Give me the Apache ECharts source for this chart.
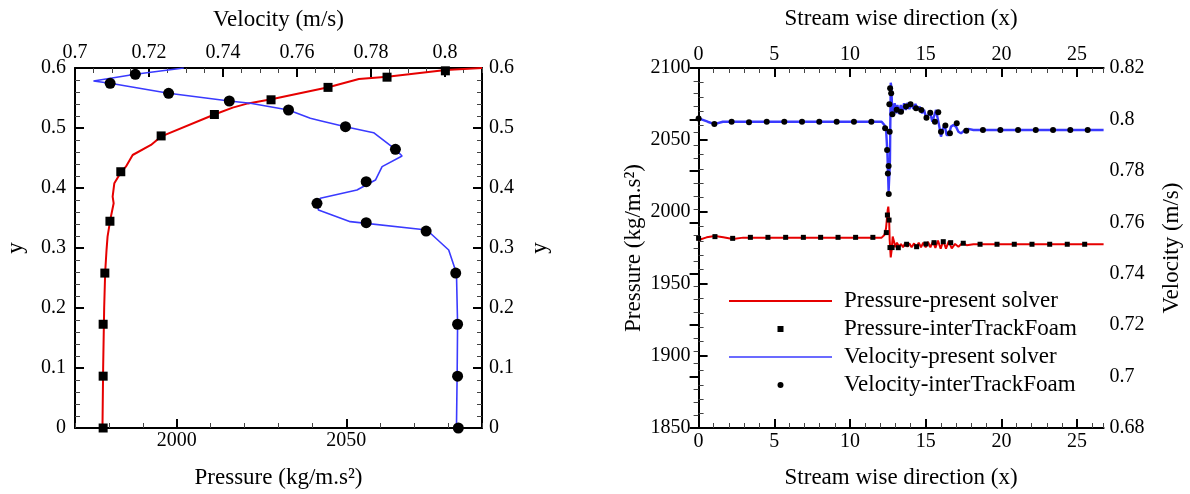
<!DOCTYPE html>
<html>
<head>
<meta charset="utf-8">
<script src="https://cdn.jsdelivr.net/npm/echarts@6/dist/echarts.min.js"></script>
<style>html,body{margin:0;padding:0;background:#fff;}#c{width:1190px;height:494px;}</style>
</head>
<body>
<div id="c"></div>
<script>
// ---------- Left panel: vertical profiles (y vs pressure / velocity) ----------
const leftPressureLine = [[1978.1,0],[1978.3,0.1],[1978.6,0.2],[1978.9,0.26],[1979.3,0.297],[1979.6,0.319],[1980.4,0.347],[1981.4,0.3745],[1981.1,0.3855],[1981.6,0.408],[1983.5,0.426],[1985,0.4355],[1987,0.455],[1992.4,0.4717],[1995.3,0.4855],[2011.1,0.5225],[2016.5,0.534],[2021,0.541],[2027.9,0.548],[2044.7,0.568],[2053.7,0.5816],[2062.1,0.5855],[2079.3,0.5967],[2090,0.6]];
const leftPressureFoam = [[1978.3,0],[1978.3,0.0864],[1978.3,0.1729],[1978.8,0.2582],[1980.3,0.3446],[1983.5,0.4271],[1995.4,0.4868],[2011.1,0.5225],[2027.8,0.547],[2044.6,0.5677],[2062,0.5847],[2079.2,0.5953]];
const leftVelocityLine = [[0.8031,0],[0.8033,0.1],[0.8034,0.173],[0.8031,0.258],[0.8010,0.2967],[0.7951,0.33],[0.7744,0.3439],[0.7658,0.3633],[0.7654,0.3745],[0.7663,0.3828],[0.7762,0.3967],[0.7812,0.4133],[0.783,0.4356],[0.7884,0.4533],[0.7866,0.4644],[0.7807,0.4922],[0.7731,0.5022],[0.7663,0.5122],[0.7636,0.5161],[0.7577,0.53],[0.7474,0.5412],[0.7417,0.545],[0.7253,0.5578],[0.7095,0.5745],[0.705,0.5783],[0.7163,0.5895],[0.7294,0.6]];
const leftVelocityFoam = [[0.8036,0],[0.8034,0.0864],[0.8034,0.1729],[0.8029,0.2582],[0.7949,0.3283],[0.7787,0.3422],[0.7654,0.3745],[0.7787,0.4106],[0.7866,0.4644],[0.7731,0.5022],[0.7577,0.53],[0.7417,0.545],[0.7253,0.5578],[0.7095,0.5745],[0.7163,0.5895]];

// ---------- Right panel: stream-wise distributions ----------
const rightPressureLine = [[0,1980.6],[0.53,1982.4],[1.08,1983.3],[1.63,1982.4],[2.25,1981.2],[2.95,1982.2],[12.09,1982.2],[12.27,1984.0],[12.38,1988.7],[12.49,2001.4],[12.53,2003.7],[12.58,1996.8],[12.62,1980.6],[12.69,1968.5],[12.75,1973.6],[12.82,1982.9],[12.91,1979.4],[12.99,1975.5],[13.10,1978.7],[13.24,1975.9],[13.37,1977.8],[13.50,1975.5],[13.63,1978.2],[13.79,1975.9],[13.92,1978.2],[14.07,1975.5],[14.23,1978.2],[14.38,1975.5],[14.54,1978.7],[14.69,1975.5],[14.84,1978.7],[15.0,1975.5],[15.15,1979.2],[15.31,1975.5],[15.48,1979.6],[15.64,1975.0],[15.81,1980.1],[15.99,1974.5],[16.16,1980.1],[16.34,1974.5],[16.52,1979.6],[16.72,1974.8],[16.94,1977.8],[17.16,1975.9],[17.44,1978.7],[17.71,1976.9],[18.15,1977.6],[26.75,1977.6]];
const rightPressureFoam = [[0,1981.7],[1.08,1982.9],[2.25,1981.7],[3.42,1982.4],[4.58,1982.4],[5.75,1982.4],[6.92,1982.4],[8.06,1982.4],[9.21,1982.4],[10.37,1982.4],[11.51,1982.4],[12.4,1985.7],[12.47,1997.9],[12.58,1994.4],[12.64,1975.3],[12.78,1975.3],[13.19,1975.2],[13.74,1977.6],[14.4,1975.9],[15.02,1977.8],[15.55,1978.7],[16.16,1979.4],[16.65,1978.7],[17.48,1978.3],[18.59,1977.6],[19.71,1977.6],[20.85,1977.6],[22.02,1977.6],[23.19,1977.6],[24.35,1977.6],[25.5,1977.6]];
const rightVelocityLine = [[0,0.8004],[0.6,0.7991],[1.04,0.7982],[1.6,0.7991],[12.09,0.7991],[12.27,0.7978],[12.38,0.7965],[12.47,0.7868],[12.55,0.7719],[12.60,0.7719],[12.64,0.7842],[12.69,0.8143],[12.73,0.8127],[12.80,0.8011],[12.86,0.8037],[12.95,0.8063],[13.04,0.8024],[13.13,0.8056],[13.24,0.8021],[13.35,0.8056],[13.46,0.803],[13.57,0.8063],[13.68,0.8037],[13.81,0.8065],[13.92,0.804],[14.05,0.8063],[14.18,0.8041],[14.32,0.806],[14.47,0.8037],[14.60,0.805],[14.76,0.8024],[14.89,0.8037],[15.04,0.8004],[15.17,0.8017],[15.28,0.803],[15.44,0.7991],[15.55,0.7985],[15.68,0.8037],[15.79,0.8043],[15.90,0.7972],[16.01,0.7933],[16.14,0.7965],[16.25,0.7978],[16.38,0.7939],[16.52,0.7939],[16.67,0.7972],[16.83,0.7978],[17.0,0.7972],[17.16,0.7952],[17.33,0.7946],[17.53,0.7956],[17.82,0.7963],[18.15,0.7959],[26.75,0.7959]];
const rightVelocityFoam = [[0,0.8004],[1.04,0.7982],[2.18,0.7991],[3.33,0.7989],[4.5,0.7991],[5.66,0.7991],[6.83,0.7991],[7.97,0.7991],[9.12,0.7991],[10.26,0.7991],[11.41,0.7991],[12.32,0.7966],[12.45,0.7881],[12.55,0.7819],[12.5,0.779],[12.56,0.771],[12.62,0.7952],[12.6,0.8059],[12.65,0.8121],[12.72,0.8102],[12.8,0.802],[13.08,0.8038],[13.37,0.803],[13.7,0.805],[14.0,0.8059],[14.36,0.8043],[14.71,0.8037],[15.05,0.8007],[15.3,0.8026],[15.61,0.7991],[15.83,0.8028],[16.01,0.7952],[16.3,0.7976],[16.6,0.7946],[17.05,0.7985],[17.68,0.7956],[18.78,0.7959],[19.93,0.7959],[21.1,0.7959],[22.27,0.7959],[23.41,0.7959],[24.55,0.7959],[25.7,0.7959]];

// ---------- tick labels ----------
const leftPressureTicks = [2000, 2050];
const leftVelocityTicks = [0.7, 0.72, 0.74, 0.76, 0.78, 0.8];
const rightXTicks = [0, 5, 10, 15, 20, 25];

const FONT = "'Liberation Serif', 'DejaVu Serif', serif";
const plain = (v) => String(Math.round(v * 1e6) / 1e6);
const lab = (m) => ({ fontSize: 20, color: '#000', fontFamily: FONT, margin: m, formatter: plain });
const nameStyle = { fontSize: 23, color: '#000', fontFamily: FONT };
const line = { show: true, lineStyle: { color: '#000', width: 2 } };
const noSplit = { show: false };
const minorTick = { show: true, inside: true, length: 5, lineStyle: { color: '#444', width: 1 } };
const majorTick = { show: true, inside: true, length: 9, lineStyle: { color: '#000', width: 2 } };

function minorAxis(o) {
  return Object.assign({ type: 'value', splitLine: noSplit, axisLine: line, axisTick: minorTick }, o);
}
function majorOverlay(o, values) {
  return Object.assign({ type: 'value', splitLine: noSplit, axisLine: { show: false }, axisLabel: { show: false },
    axisTick: Object.assign({}, majorTick, { customValues: values }) }, o);
}

const option = {
  backgroundColor: '#fff',
  animation: false,
  grid: [
    { left: 75, top: 68, width: 407, height: 360 },
    { left: 698.6, top: 68, width: 405, height: 360 }
  ],
  legend: {
    left: 724, top: 282, orient: 'vertical', itemWidth: 103, itemHeight: 6, itemGap: 0,
    textStyle: { fontSize: 23, fontFamily: FONT, color: '#000', lineHeight: 28, padding: [0, 0, 0, 7] },
    selectedMode: false,
    data: [
      { name: 'Pressure-present solver', icon: 'path://M0 0H50V1H0Z' },
      { name: 'Pressure-interTrackFoam', icon: 'path://M0 0H10V10H0Z' },
      { name: 'Velocity-present solver', icon: 'path://M0 0H50V0.8H0Z' },
      { name: 'Velocity-interTrackFoam', icon: 'circle' }
    ]
  },
  xAxis: [
    minorAxis({ gridIndex: 0, position: 'bottom', min: 1970, max: 2090, interval: 10,
      axisLabel: Object.assign(lab(3), { customValues: leftPressureTicks }),
      name: 'Pressure (kg/m.s²)', nameLocation: 'middle', nameGap: 38, nameTextStyle: nameStyle }),
    majorOverlay({ gridIndex: 0, position: 'bottom', min: 1970, max: 2090, interval: 10 }, leftPressureTicks),
    minorAxis({ gridIndex: 0, position: 'top', min: 0.7, max: 0.81, interval: 0.005,
      axisLabel: Object.assign(lab(5), { customValues: leftVelocityTicks }),
      name: 'Velocity (m/s)', nameLocation: 'middle', nameGap: 37, nameTextStyle: nameStyle }),
    majorOverlay({ gridIndex: 0, position: 'top', min: 0.7, max: 0.81, interval: 0.005 }, leftVelocityTicks),
    minorAxis({ gridIndex: 1, position: 'bottom', min: 0, max: 26.75, interval: 1,
      axisLabel: Object.assign(lab(4), { customValues: rightXTicks }),
      name: 'Stream wise direction (x)', nameLocation: 'middle', nameGap: 38, nameTextStyle: nameStyle }),
    majorOverlay({ gridIndex: 1, position: 'bottom', min: 0, max: 26.75, interval: 1 }, rightXTicks),
    minorAxis({ gridIndex: 1, position: 'top', min: 0, max: 26.75, interval: 1,
      axisLabel: Object.assign(lab(3), { customValues: rightXTicks }),
      name: 'Stream wise direction (x)', nameLocation: 'middle', nameGap: 38, nameTextStyle: nameStyle }),
    majorOverlay({ gridIndex: 1, position: 'top', min: 0, max: 26.75, interval: 1 }, rightXTicks)
  ],
  yAxis: [
    { type: 'value', gridIndex: 0, position: 'left', min: 0, max: 0.6, interval: 0.1, splitLine: noSplit,
      axisLine: line, axisTick: majorTick, minorTick: Object.assign({ splitNumber: 5 }, minorTick), minorSplitLine: noSplit,
      axisLabel: lab(9), name: 'y', nameLocation: 'middle', nameGap: 48, nameRotate: 90, nameTextStyle: nameStyle },
    { type: 'value', gridIndex: 0, position: 'right', min: 0, max: 0.6, interval: 0.1, splitLine: noSplit,
      axisLine: line, axisTick: majorTick, minorTick: Object.assign({ splitNumber: 5 }, minorTick), minorSplitLine: noSplit,
      axisLabel: lab(7), name: 'y', nameLocation: 'middle', nameGap: 46, nameRotate: 90, nameTextStyle: nameStyle },
    { type: 'value', gridIndex: 1, position: 'left', min: 1850, max: 2100, interval: 50, splitLine: noSplit,
      axisLine: line, axisTick: majorTick, minorTick: Object.assign({ splitNumber: 5 }, minorTick), minorSplitLine: noSplit,
      axisLabel: lab(8), name: 'Pressure (kg/m.s²)', nameLocation: 'middle', nameGap: 53, nameRotate: 90, nameTextStyle: nameStyle },
    { type: 'value', gridIndex: 1, position: 'right', min: 0.68, max: 0.82, interval: 0.02, splitLine: noSplit,
      axisLine: line, axisTick: majorTick, minorTick: Object.assign({ splitNumber: 4 }, minorTick), minorSplitLine: noSplit,
      axisLabel: lab(6), name: 'Velocity (m/s)', nameLocation: 'middle', nameGap: 57, nameRotate: 90, nameTextStyle: nameStyle }
  ],
  series: [
    { name: 'L-pressure', type: 'line', xAxisIndex: 0, yAxisIndex: 0, data: leftPressureLine, symbol: 'none',
      lineStyle: { color: '#e60000', width: 2 }, z: 2 },
    { name: 'L-velocity', type: 'line', xAxisIndex: 2, yAxisIndex: 0, data: leftVelocityLine, symbol: 'none',
      lineStyle: { color: '#3a3aff', width: 1.6 }, z: 2 },
    { name: 'L-pressure-foam', type: 'scatter', xAxisIndex: 0, yAxisIndex: 0, data: leftPressureFoam, symbol: 'rect',
      symbolSize: 9, itemStyle: { color: '#000', opacity: 1 }, z: 3 },
    { name: 'L-velocity-foam', type: 'scatter', xAxisIndex: 2, yAxisIndex: 0, data: leftVelocityFoam, symbol: 'circle',
      symbolSize: 11, itemStyle: { color: '#000', opacity: 1 }, z: 3 },

    { name: 'Pressure-present solver', type: 'line', xAxisIndex: 4, yAxisIndex: 2, data: rightPressureLine, symbol: 'none',
      lineStyle: { color: '#e60000', width: 2 }, itemStyle: { color: '#e60000' }, z: 2 },
    { name: 'Pressure-interTrackFoam', type: 'scatter', xAxisIndex: 4, yAxisIndex: 2, data: rightPressureFoam, symbol: 'rect',
      symbolSize: 5, itemStyle: { color: '#000', opacity: 1 }, z: 3 },
    { name: 'Velocity-present solver', type: 'line', xAxisIndex: 4, yAxisIndex: 3, data: rightVelocityLine, symbol: 'none',
      lineStyle: { color: '#3a3aff', width: 2.4 }, itemStyle: { color: '#3a3aff' }, z: 2 },
    { name: 'Velocity-interTrackFoam', type: 'scatter', xAxisIndex: 4, yAxisIndex: 3, data: rightVelocityFoam, symbol: 'circle',
      symbolSize: 6, itemStyle: { color: '#000', opacity: 1 }, z: 3 }
  ]
};

const chart = echarts.init(document.getElementById('c'), null, { renderer: 'canvas' });
chart.setOption(option);
</script>
</body>
</html>
